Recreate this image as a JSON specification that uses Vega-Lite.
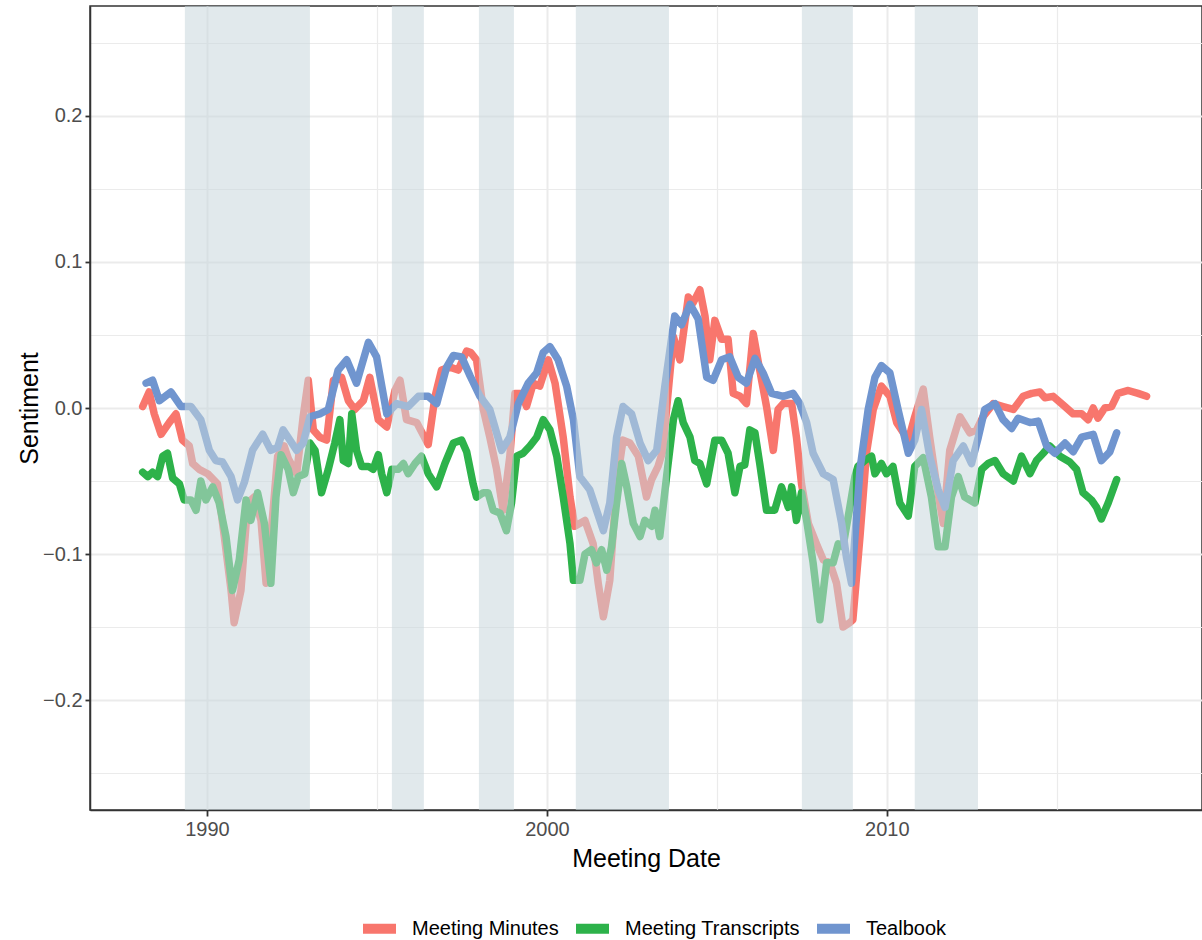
{
  "$schema": "https://vega.github.io/schema/vega-lite/v6.json",
  "width": 1112,
  "height": 804,
  "autosize": {"type": "none"},
  "padding": {"left": 90, "top": 6, "right": 0, "bottom": 130},
  "config": {
    "font": "Liberation Sans",
    "view": {"stroke": "#333333", "strokeWidth": 1.5},
    "axis": {
      "gridColor": "#EBEBEB",
      "labelFontSize": 20,
      "labelColor": "#4D4D4D",
      "titleFontSize": 25,
      "titleColor": "#000000",
      "titleFontWeight": "normal",
      "tickColor": "#333333",
      "tickWidth": 1.8,
      "tickSize": 6,
      "domainColor": "#333333",
      "domainWidth": 1.5,
      "labelOverlap": false,
      "labelFlush": false
    }
  },
  "datasets": {
    "series": [
      {"source": "Meeting Minutes", "date": 1988.11, "sentiment": 0.001},
      {"source": "Meeting Minutes", "date": 1988.30, "sentiment": 0.011},
      {"source": "Meeting Minutes", "date": 1988.45, "sentiment": -0.004},
      {"source": "Meeting Minutes", "date": 1988.65, "sentiment": -0.018},
      {"source": "Meeting Minutes", "date": 1988.89, "sentiment": -0.010},
      {"source": "Meeting Minutes", "date": 1989.09, "sentiment": -0.004},
      {"source": "Meeting Minutes", "date": 1989.28, "sentiment": -0.022},
      {"source": "Meeting Minutes", "date": 1989.48, "sentiment": -0.026},
      {"source": "Meeting Minutes", "date": 1989.58, "sentiment": -0.038},
      {"source": "Meeting Minutes", "date": 1989.77, "sentiment": -0.042},
      {"source": "Meeting Minutes", "date": 1990.02, "sentiment": -0.045},
      {"source": "Meeting Minutes", "date": 1990.31, "sentiment": -0.052},
      {"source": "Meeting Minutes", "date": 1990.51, "sentiment": -0.088},
      {"source": "Meeting Minutes", "date": 1990.71, "sentiment": -0.125},
      {"source": "Meeting Minutes", "date": 1990.80, "sentiment": -0.147},
      {"source": "Meeting Minutes", "date": 1991.00, "sentiment": -0.125},
      {"source": "Meeting Minutes", "date": 1991.20, "sentiment": -0.065},
      {"source": "Meeting Minutes", "date": 1991.39, "sentiment": -0.061},
      {"source": "Meeting Minutes", "date": 1991.59, "sentiment": -0.077},
      {"source": "Meeting Minutes", "date": 1991.74, "sentiment": -0.120},
      {"source": "Meeting Minutes", "date": 1991.88, "sentiment": -0.088},
      {"source": "Meeting Minutes", "date": 1992.08, "sentiment": -0.033},
      {"source": "Meeting Minutes", "date": 1992.27, "sentiment": -0.026},
      {"source": "Meeting Minutes", "date": 1992.40, "sentiment": -0.035},
      {"source": "Meeting Minutes", "date": 1992.64, "sentiment": -0.045},
      {"source": "Meeting Minutes", "date": 1992.83, "sentiment": -0.006},
      {"source": "Meeting Minutes", "date": 1992.98, "sentiment": 0.019},
      {"source": "Meeting Minutes", "date": 1993.13, "sentiment": -0.015},
      {"source": "Meeting Minutes", "date": 1993.32, "sentiment": -0.020},
      {"source": "Meeting Minutes", "date": 1993.52, "sentiment": -0.022},
      {"source": "Meeting Minutes", "date": 1993.72, "sentiment": 0.019},
      {"source": "Meeting Minutes", "date": 1993.96, "sentiment": 0.021},
      {"source": "Meeting Minutes", "date": 1994.16, "sentiment": 0.005},
      {"source": "Meeting Minutes", "date": 1994.35, "sentiment": -0.001},
      {"source": "Meeting Minutes", "date": 1994.60, "sentiment": 0.005},
      {"source": "Meeting Minutes", "date": 1994.79, "sentiment": 0.021},
      {"source": "Meeting Minutes", "date": 1995.04, "sentiment": -0.008},
      {"source": "Meeting Minutes", "date": 1995.29, "sentiment": -0.013},
      {"source": "Meeting Minutes", "date": 1995.53, "sentiment": 0.012},
      {"source": "Meeting Minutes", "date": 1995.68, "sentiment": 0.019},
      {"source": "Meeting Minutes", "date": 1995.87, "sentiment": -0.008},
      {"source": "Meeting Minutes", "date": 1996.17, "sentiment": -0.010},
      {"source": "Meeting Minutes", "date": 1996.51, "sentiment": -0.025},
      {"source": "Meeting Minutes", "date": 1996.71, "sentiment": 0.008},
      {"source": "Meeting Minutes", "date": 1996.90, "sentiment": 0.026},
      {"source": "Meeting Minutes", "date": 1997.15, "sentiment": 0.028},
      {"source": "Meeting Minutes", "date": 1997.39, "sentiment": 0.026},
      {"source": "Meeting Minutes", "date": 1997.64, "sentiment": 0.039},
      {"source": "Meeting Minutes", "date": 1997.76, "sentiment": 0.038},
      {"source": "Meeting Minutes", "date": 1997.93, "sentiment": 0.033},
      {"source": "Meeting Minutes", "date": 1998.13, "sentiment": -0.001},
      {"source": "Meeting Minutes", "date": 1998.32, "sentiment": -0.020},
      {"source": "Meeting Minutes", "date": 1998.52, "sentiment": -0.042},
      {"source": "Meeting Minutes", "date": 1998.71, "sentiment": -0.070},
      {"source": "Meeting Minutes", "date": 1998.91, "sentiment": -0.033},
      {"source": "Meeting Minutes", "date": 1999.06, "sentiment": 0.010},
      {"source": "Meeting Minutes", "date": 1999.26, "sentiment": 0.010},
      {"source": "Meeting Minutes", "date": 1999.40, "sentiment": 0.001},
      {"source": "Meeting Minutes", "date": 1999.60, "sentiment": 0.017},
      {"source": "Meeting Minutes", "date": 1999.79, "sentiment": 0.015},
      {"source": "Meeting Minutes", "date": 2000.04, "sentiment": 0.033},
      {"source": "Meeting Minutes", "date": 2000.24, "sentiment": 0.017},
      {"source": "Meeting Minutes", "date": 2000.48, "sentiment": -0.020},
      {"source": "Meeting Minutes", "date": 2000.68, "sentiment": -0.061},
      {"source": "Meeting Minutes", "date": 2000.82, "sentiment": -0.081},
      {"source": "Meeting Minutes", "date": 2001.12, "sentiment": -0.077},
      {"source": "Meeting Minutes", "date": 2001.36, "sentiment": -0.093},
      {"source": "Meeting Minutes", "date": 2001.51, "sentiment": -0.120},
      {"source": "Meeting Minutes", "date": 2001.66, "sentiment": -0.143},
      {"source": "Meeting Minutes", "date": 2001.85, "sentiment": -0.118},
      {"source": "Meeting Minutes", "date": 2002.05, "sentiment": -0.052},
      {"source": "Meeting Minutes", "date": 2002.24, "sentiment": -0.022},
      {"source": "Meeting Minutes", "date": 2002.44, "sentiment": -0.024},
      {"source": "Meeting Minutes", "date": 2002.69, "sentiment": -0.033},
      {"source": "Meeting Minutes", "date": 2002.93, "sentiment": -0.061},
      {"source": "Meeting Minutes", "date": 2003.08, "sentiment": -0.049},
      {"source": "Meeting Minutes", "date": 2003.27, "sentiment": -0.040},
      {"source": "Meeting Minutes", "date": 2003.40, "sentiment": -0.030},
      {"source": "Meeting Minutes", "date": 2003.52, "sentiment": -0.001},
      {"source": "Meeting Minutes", "date": 2003.72, "sentiment": 0.049},
      {"source": "Meeting Minutes", "date": 2003.91, "sentiment": 0.033},
      {"source": "Meeting Minutes", "date": 2004.16, "sentiment": 0.076},
      {"source": "Meeting Minutes", "date": 2004.30, "sentiment": 0.072},
      {"source": "Meeting Minutes", "date": 2004.50, "sentiment": 0.081},
      {"source": "Meeting Minutes", "date": 2004.65, "sentiment": 0.063},
      {"source": "Meeting Minutes", "date": 2004.79, "sentiment": 0.033},
      {"source": "Meeting Minutes", "date": 2004.94, "sentiment": 0.060},
      {"source": "Meeting Minutes", "date": 2005.14, "sentiment": 0.047},
      {"source": "Meeting Minutes", "date": 2005.33, "sentiment": 0.047},
      {"source": "Meeting Minutes", "date": 2005.48, "sentiment": 0.010},
      {"source": "Meeting Minutes", "date": 2005.68, "sentiment": 0.008},
      {"source": "Meeting Minutes", "date": 2005.87, "sentiment": 0.003},
      {"source": "Meeting Minutes", "date": 2006.07, "sentiment": 0.051},
      {"source": "Meeting Minutes", "date": 2006.26, "sentiment": 0.026},
      {"source": "Meeting Minutes", "date": 2006.46, "sentiment": 0.001},
      {"source": "Meeting Minutes", "date": 2006.66, "sentiment": -0.029},
      {"source": "Meeting Minutes", "date": 2006.80, "sentiment": -0.001},
      {"source": "Meeting Minutes", "date": 2006.95, "sentiment": 0.003},
      {"source": "Meeting Minutes", "date": 2007.20, "sentiment": 0.003},
      {"source": "Meeting Minutes", "date": 2007.34, "sentiment": -0.020},
      {"source": "Meeting Minutes", "date": 2007.49, "sentiment": -0.052},
      {"source": "Meeting Minutes", "date": 2007.69, "sentiment": -0.079},
      {"source": "Meeting Minutes", "date": 2007.93, "sentiment": -0.093},
      {"source": "Meeting Minutes", "date": 2008.13, "sentiment": -0.104},
      {"source": "Meeting Minutes", "date": 2008.32, "sentiment": -0.106},
      {"source": "Meeting Minutes", "date": 2008.52, "sentiment": -0.120},
      {"source": "Meeting Minutes", "date": 2008.71, "sentiment": -0.150},
      {"source": "Meeting Minutes", "date": 2008.91, "sentiment": -0.147},
      {"source": "Meeting Minutes", "date": 2009.00, "sentiment": -0.145},
      {"source": "Meeting Minutes", "date": 2009.21, "sentiment": -0.088},
      {"source": "Meeting Minutes", "date": 2009.40, "sentiment": -0.031},
      {"source": "Meeting Minutes", "date": 2009.60, "sentiment": -0.001},
      {"source": "Meeting Minutes", "date": 2009.84, "sentiment": 0.015},
      {"source": "Meeting Minutes", "date": 2010.09, "sentiment": 0.008},
      {"source": "Meeting Minutes", "date": 2010.29, "sentiment": -0.010},
      {"source": "Meeting Minutes", "date": 2010.63, "sentiment": -0.022},
      {"source": "Meeting Minutes", "date": 2010.82, "sentiment": -0.006},
      {"source": "Meeting Minutes", "date": 2011.07, "sentiment": 0.013},
      {"source": "Meeting Minutes", "date": 2011.26, "sentiment": -0.020},
      {"source": "Meeting Minutes", "date": 2011.46, "sentiment": -0.052},
      {"source": "Meeting Minutes", "date": 2011.66, "sentiment": -0.079},
      {"source": "Meeting Minutes", "date": 2011.85, "sentiment": -0.029},
      {"source": "Meeting Minutes", "date": 2012.15, "sentiment": -0.006},
      {"source": "Meeting Minutes", "date": 2012.44, "sentiment": -0.017},
      {"source": "Meeting Minutes", "date": 2012.64, "sentiment": -0.015},
      {"source": "Meeting Minutes", "date": 2012.83, "sentiment": -0.006},
      {"source": "Meeting Minutes", "date": 2013.13, "sentiment": 0.003},
      {"source": "Meeting Minutes", "date": 2013.42, "sentiment": 0.001},
      {"source": "Meeting Minutes", "date": 2013.72, "sentiment": -0.001},
      {"source": "Meeting Minutes", "date": 2014.01, "sentiment": 0.008},
      {"source": "Meeting Minutes", "date": 2014.26, "sentiment": 0.010},
      {"source": "Meeting Minutes", "date": 2014.50, "sentiment": 0.011},
      {"source": "Meeting Minutes", "date": 2014.65, "sentiment": 0.007},
      {"source": "Meeting Minutes", "date": 2014.89, "sentiment": 0.008},
      {"source": "Meeting Minutes", "date": 2015.19, "sentiment": 0.002},
      {"source": "Meeting Minutes", "date": 2015.48, "sentiment": -0.004},
      {"source": "Meeting Minutes", "date": 2015.73, "sentiment": -0.004},
      {"source": "Meeting Minutes", "date": 2015.92, "sentiment": -0.008},
      {"source": "Meeting Minutes", "date": 2016.07, "sentiment": 0.000},
      {"source": "Meeting Minutes", "date": 2016.21, "sentiment": -0.007},
      {"source": "Meeting Minutes", "date": 2016.41, "sentiment": 0.000},
      {"source": "Meeting Minutes", "date": 2016.61, "sentiment": 0.001},
      {"source": "Meeting Minutes", "date": 2016.80, "sentiment": 0.010},
      {"source": "Meeting Minutes", "date": 2017.10, "sentiment": 0.012},
      {"source": "Meeting Minutes", "date": 2017.39, "sentiment": 0.010},
      {"source": "Meeting Minutes", "date": 2017.64, "sentiment": 0.008},

      {"source": "Meeting Transcripts", "date": 1988.11, "sentiment": -0.044},
      {"source": "Meeting Transcripts", "date": 1988.26, "sentiment": -0.047},
      {"source": "Meeting Transcripts", "date": 1988.40, "sentiment": -0.044},
      {"source": "Meeting Transcripts", "date": 1988.55, "sentiment": -0.047},
      {"source": "Meeting Transcripts", "date": 1988.70, "sentiment": -0.033},
      {"source": "Meeting Transcripts", "date": 1988.84, "sentiment": -0.031},
      {"source": "Meeting Transcripts", "date": 1988.99, "sentiment": -0.048},
      {"source": "Meeting Transcripts", "date": 1989.19, "sentiment": -0.052},
      {"source": "Meeting Transcripts", "date": 1989.33, "sentiment": -0.063},
      {"source": "Meeting Transcripts", "date": 1989.53, "sentiment": -0.063},
      {"source": "Meeting Transcripts", "date": 1989.68, "sentiment": -0.070},
      {"source": "Meeting Transcripts", "date": 1989.82, "sentiment": -0.050},
      {"source": "Meeting Transcripts", "date": 1989.97, "sentiment": -0.063},
      {"source": "Meeting Transcripts", "date": 1990.17, "sentiment": -0.054},
      {"source": "Meeting Transcripts", "date": 1990.36, "sentiment": -0.065},
      {"source": "Meeting Transcripts", "date": 1990.56, "sentiment": -0.088},
      {"source": "Meeting Transcripts", "date": 1990.75, "sentiment": -0.125},
      {"source": "Meeting Transcripts", "date": 1990.95, "sentiment": -0.104},
      {"source": "Meeting Transcripts", "date": 1991.15, "sentiment": -0.063},
      {"source": "Meeting Transcripts", "date": 1991.29, "sentiment": -0.077},
      {"source": "Meeting Transcripts", "date": 1991.49, "sentiment": -0.058},
      {"source": "Meeting Transcripts", "date": 1991.69, "sentiment": -0.079},
      {"source": "Meeting Transcripts", "date": 1991.88, "sentiment": -0.120},
      {"source": "Meeting Transcripts", "date": 1992.03, "sentiment": -0.061},
      {"source": "Meeting Transcripts", "date": 1992.18, "sentiment": -0.032},
      {"source": "Meeting Transcripts", "date": 1992.39, "sentiment": -0.042},
      {"source": "Meeting Transcripts", "date": 1992.54, "sentiment": -0.058},
      {"source": "Meeting Transcripts", "date": 1992.69, "sentiment": -0.047},
      {"source": "Meeting Transcripts", "date": 1992.88, "sentiment": -0.045},
      {"source": "Meeting Transcripts", "date": 1993.03, "sentiment": -0.024},
      {"source": "Meeting Transcripts", "date": 1993.18, "sentiment": -0.029},
      {"source": "Meeting Transcripts", "date": 1993.37, "sentiment": -0.058},
      {"source": "Meeting Transcripts", "date": 1993.57, "sentiment": -0.042},
      {"source": "Meeting Transcripts", "date": 1993.76, "sentiment": -0.024},
      {"source": "Meeting Transcripts", "date": 1993.91, "sentiment": -0.008},
      {"source": "Meeting Transcripts", "date": 1994.01, "sentiment": -0.036},
      {"source": "Meeting Transcripts", "date": 1994.16, "sentiment": -0.038},
      {"source": "Meeting Transcripts", "date": 1994.26, "sentiment": -0.004},
      {"source": "Meeting Transcripts", "date": 1994.40, "sentiment": -0.029},
      {"source": "Meeting Transcripts", "date": 1994.55, "sentiment": -0.040},
      {"source": "Meeting Transcripts", "date": 1994.75, "sentiment": -0.040},
      {"source": "Meeting Transcripts", "date": 1994.89, "sentiment": -0.042},
      {"source": "Meeting Transcripts", "date": 1995.04, "sentiment": -0.032},
      {"source": "Meeting Transcripts", "date": 1995.14, "sentiment": -0.045},
      {"source": "Meeting Transcripts", "date": 1995.29, "sentiment": -0.058},
      {"source": "Meeting Transcripts", "date": 1995.44, "sentiment": -0.042},
      {"source": "Meeting Transcripts", "date": 1995.63, "sentiment": -0.042},
      {"source": "Meeting Transcripts", "date": 1995.78, "sentiment": -0.038},
      {"source": "Meeting Transcripts", "date": 1995.92, "sentiment": -0.045},
      {"source": "Meeting Transcripts", "date": 1996.12, "sentiment": -0.038},
      {"source": "Meeting Transcripts", "date": 1996.31, "sentiment": -0.033},
      {"source": "Meeting Transcripts", "date": 1996.51, "sentiment": -0.045},
      {"source": "Meeting Transcripts", "date": 1996.76, "sentiment": -0.054},
      {"source": "Meeting Transcripts", "date": 1997.00, "sentiment": -0.038},
      {"source": "Meeting Transcripts", "date": 1997.25, "sentiment": -0.024},
      {"source": "Meeting Transcripts", "date": 1997.49, "sentiment": -0.022},
      {"source": "Meeting Transcripts", "date": 1997.64, "sentiment": -0.030},
      {"source": "Meeting Transcripts", "date": 1997.83, "sentiment": -0.052},
      {"source": "Meeting Transcripts", "date": 1997.93, "sentiment": -0.061},
      {"source": "Meeting Transcripts", "date": 1998.13, "sentiment": -0.058},
      {"source": "Meeting Transcripts", "date": 1998.27, "sentiment": -0.058},
      {"source": "Meeting Transcripts", "date": 1998.42, "sentiment": -0.070},
      {"source": "Meeting Transcripts", "date": 1998.62, "sentiment": -0.072},
      {"source": "Meeting Transcripts", "date": 1998.81, "sentiment": -0.084},
      {"source": "Meeting Transcripts", "date": 1998.96, "sentiment": -0.065},
      {"source": "Meeting Transcripts", "date": 1999.11, "sentiment": -0.033},
      {"source": "Meeting Transcripts", "date": 1999.30, "sentiment": -0.031},
      {"source": "Meeting Transcripts", "date": 1999.50, "sentiment": -0.026},
      {"source": "Meeting Transcripts", "date": 1999.70, "sentiment": -0.020},
      {"source": "Meeting Transcripts", "date": 1999.89, "sentiment": -0.008},
      {"source": "Meeting Transcripts", "date": 2000.09, "sentiment": -0.015},
      {"source": "Meeting Transcripts", "date": 2000.29, "sentiment": -0.033},
      {"source": "Meeting Transcripts", "date": 2000.48, "sentiment": -0.061},
      {"source": "Meeting Transcripts", "date": 2000.68, "sentiment": -0.093},
      {"source": "Meeting Transcripts", "date": 2000.78, "sentiment": -0.118},
      {"source": "Meeting Transcripts", "date": 2000.97, "sentiment": -0.118},
      {"source": "Meeting Transcripts", "date": 2001.12, "sentiment": -0.100},
      {"source": "Meeting Transcripts", "date": 2001.31, "sentiment": -0.097},
      {"source": "Meeting Transcripts", "date": 2001.46, "sentiment": -0.106},
      {"source": "Meeting Transcripts", "date": 2001.61, "sentiment": -0.097},
      {"source": "Meeting Transcripts", "date": 2001.76, "sentiment": -0.111},
      {"source": "Meeting Transcripts", "date": 2001.90, "sentiment": -0.095},
      {"source": "Meeting Transcripts", "date": 2002.05, "sentiment": -0.065},
      {"source": "Meeting Transcripts", "date": 2002.20, "sentiment": -0.038},
      {"source": "Meeting Transcripts", "date": 2002.35, "sentiment": -0.054},
      {"source": "Meeting Transcripts", "date": 2002.54, "sentiment": -0.079},
      {"source": "Meeting Transcripts", "date": 2002.74, "sentiment": -0.088},
      {"source": "Meeting Transcripts", "date": 2002.88, "sentiment": -0.077},
      {"source": "Meeting Transcripts", "date": 2003.08, "sentiment": -0.081},
      {"source": "Meeting Transcripts", "date": 2003.18, "sentiment": -0.070},
      {"source": "Meeting Transcripts", "date": 2003.32, "sentiment": -0.088},
      {"source": "Meeting Transcripts", "date": 2003.52, "sentiment": -0.047},
      {"source": "Meeting Transcripts", "date": 2003.72, "sentiment": -0.008},
      {"source": "Meeting Transcripts", "date": 2003.86, "sentiment": 0.005},
      {"source": "Meeting Transcripts", "date": 2004.01, "sentiment": -0.010},
      {"source": "Meeting Transcripts", "date": 2004.21, "sentiment": -0.020},
      {"source": "Meeting Transcripts", "date": 2004.35, "sentiment": -0.036},
      {"source": "Meeting Transcripts", "date": 2004.50, "sentiment": -0.038},
      {"source": "Meeting Transcripts", "date": 2004.70, "sentiment": -0.052},
      {"source": "Meeting Transcripts", "date": 2004.94, "sentiment": -0.022},
      {"source": "Meeting Transcripts", "date": 2005.14, "sentiment": -0.022},
      {"source": "Meeting Transcripts", "date": 2005.33, "sentiment": -0.031},
      {"source": "Meeting Transcripts", "date": 2005.53, "sentiment": -0.058},
      {"source": "Meeting Transcripts", "date": 2005.68, "sentiment": -0.040},
      {"source": "Meeting Transcripts", "date": 2005.82, "sentiment": -0.039},
      {"source": "Meeting Transcripts", "date": 2005.97, "sentiment": -0.015},
      {"source": "Meeting Transcripts", "date": 2006.12, "sentiment": -0.017},
      {"source": "Meeting Transcripts", "date": 2006.26, "sentiment": -0.038},
      {"source": "Meeting Transcripts", "date": 2006.46, "sentiment": -0.070},
      {"source": "Meeting Transcripts", "date": 2006.70, "sentiment": -0.070},
      {"source": "Meeting Transcripts", "date": 2006.90, "sentiment": -0.054},
      {"source": "Meeting Transcripts", "date": 2007.10, "sentiment": -0.068},
      {"source": "Meeting Transcripts", "date": 2007.20, "sentiment": -0.054},
      {"source": "Meeting Transcripts", "date": 2007.34, "sentiment": -0.077},
      {"source": "Meeting Transcripts", "date": 2007.49, "sentiment": -0.058},
      {"source": "Meeting Transcripts", "date": 2007.64, "sentiment": -0.077},
      {"source": "Meeting Transcripts", "date": 2007.83, "sentiment": -0.106},
      {"source": "Meeting Transcripts", "date": 2008.03, "sentiment": -0.145},
      {"source": "Meeting Transcripts", "date": 2008.23, "sentiment": -0.106},
      {"source": "Meeting Transcripts", "date": 2008.42, "sentiment": -0.106},
      {"source": "Meeting Transcripts", "date": 2008.57, "sentiment": -0.093},
      {"source": "Meeting Transcripts", "date": 2008.71, "sentiment": -0.095},
      {"source": "Meeting Transcripts", "date": 2008.91, "sentiment": -0.068},
      {"source": "Meeting Transcripts", "date": 2009.06, "sentiment": -0.047},
      {"source": "Meeting Transcripts", "date": 2009.15, "sentiment": -0.040},
      {"source": "Meeting Transcripts", "date": 2009.35, "sentiment": -0.036},
      {"source": "Meeting Transcripts", "date": 2009.55, "sentiment": -0.033},
      {"source": "Meeting Transcripts", "date": 2009.65, "sentiment": -0.045},
      {"source": "Meeting Transcripts", "date": 2009.84, "sentiment": -0.038},
      {"source": "Meeting Transcripts", "date": 2009.99, "sentiment": -0.045},
      {"source": "Meeting Transcripts", "date": 2010.18, "sentiment": -0.040},
      {"source": "Meeting Transcripts", "date": 2010.38, "sentiment": -0.065},
      {"source": "Meeting Transcripts", "date": 2010.63, "sentiment": -0.074},
      {"source": "Meeting Transcripts", "date": 2010.82, "sentiment": -0.040},
      {"source": "Meeting Transcripts", "date": 2011.07, "sentiment": -0.034},
      {"source": "Meeting Transcripts", "date": 2011.31, "sentiment": -0.061},
      {"source": "Meeting Transcripts", "date": 2011.51, "sentiment": -0.095},
      {"source": "Meeting Transcripts", "date": 2011.71, "sentiment": -0.095},
      {"source": "Meeting Transcripts", "date": 2011.90, "sentiment": -0.061},
      {"source": "Meeting Transcripts", "date": 2012.10, "sentiment": -0.047},
      {"source": "Meeting Transcripts", "date": 2012.29, "sentiment": -0.061},
      {"source": "Meeting Transcripts", "date": 2012.59, "sentiment": -0.065},
      {"source": "Meeting Transcripts", "date": 2012.79, "sentiment": -0.042},
      {"source": "Meeting Transcripts", "date": 2012.98, "sentiment": -0.038},
      {"source": "Meeting Transcripts", "date": 2013.18, "sentiment": -0.036},
      {"source": "Meeting Transcripts", "date": 2013.42, "sentiment": -0.045},
      {"source": "Meeting Transcripts", "date": 2013.72, "sentiment": -0.050},
      {"source": "Meeting Transcripts", "date": 2013.96, "sentiment": -0.033},
      {"source": "Meeting Transcripts", "date": 2014.21, "sentiment": -0.045},
      {"source": "Meeting Transcripts", "date": 2014.40, "sentiment": -0.036},
      {"source": "Meeting Transcripts", "date": 2014.60, "sentiment": -0.031},
      {"source": "Meeting Transcripts", "date": 2014.79, "sentiment": -0.026},
      {"source": "Meeting Transcripts", "date": 2015.09, "sentiment": -0.033},
      {"source": "Meeting Transcripts", "date": 2015.38, "sentiment": -0.037},
      {"source": "Meeting Transcripts", "date": 2015.58, "sentiment": -0.042},
      {"source": "Meeting Transcripts", "date": 2015.77, "sentiment": -0.058},
      {"source": "Meeting Transcripts", "date": 2016.02, "sentiment": -0.063},
      {"source": "Meeting Transcripts", "date": 2016.17, "sentiment": -0.068},
      {"source": "Meeting Transcripts", "date": 2016.31, "sentiment": -0.076},
      {"source": "Meeting Transcripts", "date": 2016.51, "sentiment": -0.065},
      {"source": "Meeting Transcripts", "date": 2016.76, "sentiment": -0.049},

      {"source": "Tealbook", "date": 1988.21, "sentiment": 0.017},
      {"source": "Tealbook", "date": 1988.40, "sentiment": 0.019},
      {"source": "Tealbook", "date": 1988.60, "sentiment": 0.005},
      {"source": "Tealbook", "date": 1988.94, "sentiment": 0.011},
      {"source": "Tealbook", "date": 1989.24, "sentiment": 0.001},
      {"source": "Tealbook", "date": 1989.53, "sentiment": 0.001},
      {"source": "Tealbook", "date": 1989.82, "sentiment": -0.008},
      {"source": "Tealbook", "date": 1990.07, "sentiment": -0.029},
      {"source": "Tealbook", "date": 1990.26, "sentiment": -0.036},
      {"source": "Tealbook", "date": 1990.46, "sentiment": -0.037},
      {"source": "Tealbook", "date": 1990.71, "sentiment": -0.047},
      {"source": "Tealbook", "date": 1990.90, "sentiment": -0.063},
      {"source": "Tealbook", "date": 1991.10, "sentiment": -0.051},
      {"source": "Tealbook", "date": 1991.34, "sentiment": -0.029},
      {"source": "Tealbook", "date": 1991.64, "sentiment": -0.018},
      {"source": "Tealbook", "date": 1991.88, "sentiment": -0.029},
      {"source": "Tealbook", "date": 1992.08, "sentiment": -0.027},
      {"source": "Tealbook", "date": 1992.24, "sentiment": -0.015},
      {"source": "Tealbook", "date": 1992.64, "sentiment": -0.029},
      {"source": "Tealbook", "date": 1992.83, "sentiment": -0.024},
      {"source": "Tealbook", "date": 1993.03, "sentiment": -0.006},
      {"source": "Tealbook", "date": 1993.32, "sentiment": -0.004},
      {"source": "Tealbook", "date": 1993.57, "sentiment": -0.001},
      {"source": "Tealbook", "date": 1993.86, "sentiment": 0.026},
      {"source": "Tealbook", "date": 1994.11, "sentiment": 0.033},
      {"source": "Tealbook", "date": 1994.40, "sentiment": 0.017},
      {"source": "Tealbook", "date": 1994.75, "sentiment": 0.045},
      {"source": "Tealbook", "date": 1994.99, "sentiment": 0.035},
      {"source": "Tealbook", "date": 1995.29, "sentiment": -0.004},
      {"source": "Tealbook", "date": 1995.58, "sentiment": 0.003},
      {"source": "Tealbook", "date": 1995.92, "sentiment": 0.001},
      {"source": "Tealbook", "date": 1996.22, "sentiment": 0.008},
      {"source": "Tealbook", "date": 1996.51, "sentiment": 0.008},
      {"source": "Tealbook", "date": 1996.76, "sentiment": 0.003},
      {"source": "Tealbook", "date": 1997.05, "sentiment": 0.028},
      {"source": "Tealbook", "date": 1997.25, "sentiment": 0.036},
      {"source": "Tealbook", "date": 1997.49, "sentiment": 0.035},
      {"source": "Tealbook", "date": 1997.74, "sentiment": 0.022},
      {"source": "Tealbook", "date": 1998.03, "sentiment": 0.008},
      {"source": "Tealbook", "date": 1998.32, "sentiment": -0.001},
      {"source": "Tealbook", "date": 1998.67, "sentiment": -0.029},
      {"source": "Tealbook", "date": 1998.91, "sentiment": -0.020},
      {"source": "Tealbook", "date": 1999.16, "sentiment": 0.003},
      {"source": "Tealbook", "date": 1999.45, "sentiment": 0.017},
      {"source": "Tealbook", "date": 1999.70, "sentiment": 0.024},
      {"source": "Tealbook", "date": 1999.89, "sentiment": 0.038},
      {"source": "Tealbook", "date": 2000.09, "sentiment": 0.042},
      {"source": "Tealbook", "date": 2000.33, "sentiment": 0.033},
      {"source": "Tealbook", "date": 2000.58, "sentiment": 0.015},
      {"source": "Tealbook", "date": 2000.78, "sentiment": -0.008},
      {"source": "Tealbook", "date": 2000.97, "sentiment": -0.047},
      {"source": "Tealbook", "date": 2001.26, "sentiment": -0.056},
      {"source": "Tealbook", "date": 2001.46, "sentiment": -0.070},
      {"source": "Tealbook", "date": 2001.66, "sentiment": -0.084},
      {"source": "Tealbook", "date": 2001.85, "sentiment": -0.065},
      {"source": "Tealbook", "date": 2002.05, "sentiment": -0.020},
      {"source": "Tealbook", "date": 2002.24, "sentiment": 0.001},
      {"source": "Tealbook", "date": 2002.49, "sentiment": -0.004},
      {"source": "Tealbook", "date": 2002.74, "sentiment": -0.024},
      {"source": "Tealbook", "date": 2002.98, "sentiment": -0.036},
      {"source": "Tealbook", "date": 2003.23, "sentiment": -0.029},
      {"source": "Tealbook", "date": 2003.47, "sentiment": 0.015},
      {"source": "Tealbook", "date": 2003.76, "sentiment": 0.063},
      {"source": "Tealbook", "date": 2003.96, "sentiment": 0.057},
      {"source": "Tealbook", "date": 2004.21, "sentiment": 0.071},
      {"source": "Tealbook", "date": 2004.45, "sentiment": 0.061},
      {"source": "Tealbook", "date": 2004.70, "sentiment": 0.021},
      {"source": "Tealbook", "date": 2004.89, "sentiment": 0.019},
      {"source": "Tealbook", "date": 2005.14, "sentiment": 0.033},
      {"source": "Tealbook", "date": 2005.38, "sentiment": 0.035},
      {"source": "Tealbook", "date": 2005.63, "sentiment": 0.021},
      {"source": "Tealbook", "date": 2005.87, "sentiment": 0.017},
      {"source": "Tealbook", "date": 2006.12, "sentiment": 0.034},
      {"source": "Tealbook", "date": 2006.36, "sentiment": 0.024},
      {"source": "Tealbook", "date": 2006.61, "sentiment": 0.010},
      {"source": "Tealbook", "date": 2006.95, "sentiment": 0.008},
      {"source": "Tealbook", "date": 2007.24, "sentiment": 0.010},
      {"source": "Tealbook", "date": 2007.44, "sentiment": 0.003},
      {"source": "Tealbook", "date": 2007.64, "sentiment": -0.010},
      {"source": "Tealbook", "date": 2007.83, "sentiment": -0.031},
      {"source": "Tealbook", "date": 2008.13, "sentiment": -0.045},
      {"source": "Tealbook", "date": 2008.42, "sentiment": -0.049},
      {"source": "Tealbook", "date": 2008.67, "sentiment": -0.079},
      {"source": "Tealbook", "date": 2008.81, "sentiment": -0.102},
      {"source": "Tealbook", "date": 2008.96, "sentiment": -0.120},
      {"source": "Tealbook", "date": 2009.21, "sentiment": -0.042},
      {"source": "Tealbook", "date": 2009.45, "sentiment": -0.001},
      {"source": "Tealbook", "date": 2009.65, "sentiment": 0.021},
      {"source": "Tealbook", "date": 2009.84, "sentiment": 0.029},
      {"source": "Tealbook", "date": 2010.09, "sentiment": 0.024},
      {"source": "Tealbook", "date": 2010.33, "sentiment": -0.001},
      {"source": "Tealbook", "date": 2010.63, "sentiment": -0.031},
      {"source": "Tealbook", "date": 2010.82, "sentiment": -0.022},
      {"source": "Tealbook", "date": 2011.02, "sentiment": -0.001},
      {"source": "Tealbook", "date": 2011.26, "sentiment": -0.033},
      {"source": "Tealbook", "date": 2011.51, "sentiment": -0.056},
      {"source": "Tealbook", "date": 2011.71, "sentiment": -0.068},
      {"source": "Tealbook", "date": 2011.95, "sentiment": -0.036},
      {"source": "Tealbook", "date": 2012.25, "sentiment": -0.026},
      {"source": "Tealbook", "date": 2012.49, "sentiment": -0.038},
      {"source": "Tealbook", "date": 2012.69, "sentiment": -0.020},
      {"source": "Tealbook", "date": 2012.88, "sentiment": -0.001},
      {"source": "Tealbook", "date": 2013.18, "sentiment": 0.003},
      {"source": "Tealbook", "date": 2013.42, "sentiment": -0.008},
      {"source": "Tealbook", "date": 2013.67, "sentiment": -0.014},
      {"source": "Tealbook", "date": 2013.86, "sentiment": -0.007},
      {"source": "Tealbook", "date": 2014.21, "sentiment": -0.010},
      {"source": "Tealbook", "date": 2014.45, "sentiment": -0.009},
      {"source": "Tealbook", "date": 2014.70, "sentiment": -0.026},
      {"source": "Tealbook", "date": 2014.94, "sentiment": -0.031},
      {"source": "Tealbook", "date": 2015.24, "sentiment": -0.024},
      {"source": "Tealbook", "date": 2015.48, "sentiment": -0.030},
      {"source": "Tealbook", "date": 2015.73, "sentiment": -0.020},
      {"source": "Tealbook", "date": 2016.07, "sentiment": -0.018},
      {"source": "Tealbook", "date": 2016.31, "sentiment": -0.036},
      {"source": "Tealbook", "date": 2016.56, "sentiment": -0.030},
      {"source": "Tealbook", "date": 2016.76, "sentiment": -0.017}
    ],
    "shade": [
      {"start": 1989.35, "end": 1993.03},
      {"start": 1995.44, "end": 1996.38},
      {"start": 1998.00, "end": 1999.03},
      {"start": 2000.85, "end": 2003.59},
      {"start": 2007.50, "end": 2009.00},
      {"start": 2010.82, "end": 2012.68}
    ]
  },
  "layer": [
    {
      "data": {"name": "series"},
      "mark": {"type": "line", "strokeWidth": 7.5, "strokeJoin": "round", "strokeCap": "round"},
      "encoding": {
        "x": {
          "field": "date", "type": "quantitative",
          "scale": {"domain": [1986.56, 2019.27], "nice": false, "zero": false},
          "axis": {
            "title": "Meeting Date",
            "values": [1990, 1995, 2000, 2005, 2010, 2015],
            "labelExpr": "datum.value % 10 == 0 ? format(datum.value, 'd') : ''",
            "gridWidth": {"condition": {"test": "datum.value % 10 == 0", "value": 2}, "value": 1.2},
            "tickOpacity": {"condition": {"test": "datum.value % 10 == 0", "value": 1}, "value": 0},
            "labelPadding": 3,
            "titlePadding": 7
          }
        },
        "y": {
          "field": "sentiment", "type": "quantitative",
          "scale": {"domain": [-0.2753, 0.2753], "nice": false, "zero": false},
          "axis": {
            "title": "Sentiment",
            "values": [-0.25, -0.2, -0.15, -0.1, -0.05, 0, 0.05, 0.1, 0.15, 0.2, 0.25],
            "labelExpr": "abs(round(datum.value * 20)) % 2 == 0 ? format(datum.value, '.1f') : ''",
            "gridWidth": {"condition": {"test": "abs(round(datum.value * 20)) % 2 == 0", "value": 2}, "value": 1.2},
            "tickOpacity": {"condition": {"test": "abs(round(datum.value * 20)) % 2 == 0", "value": 1}, "value": 0},
            "tickSize": 5,
            "labelPadding": 3,
            "titlePadding": 0
          }
        },
        "color": {
          "field": "source", "type": "nominal",
          "scale": {
            "domain": ["Meeting Minutes", "Meeting Transcripts", "Tealbook"],
            "range": ["#F8766D", "#2DB24A", "#7095CF"]
          },
          "legend": {
            "title": null,
            "orient": "none",
            "direction": "horizontal",
            "legendX": 268,
            "legendY": 901,
            "symbolType": "stroke",
            "symbolSize": 1089,
            "symbolStrokeWidth": 10,
            "labelFontSize": 20,
            "labelLimit": 0,
            "labelColor": "#000000",
            "labelOffset": 11,
            "columnPadding": -3
          }
        }
      }
    },
    {
      "data": {"name": "shade"},
      "mark": {"type": "rect", "color": "#C8D7DC", "opacity": 0.55},
      "encoding": {
        "x": {"field": "start", "type": "quantitative"},
        "x2": {"field": "end"}
      }
    }
  ]
}
